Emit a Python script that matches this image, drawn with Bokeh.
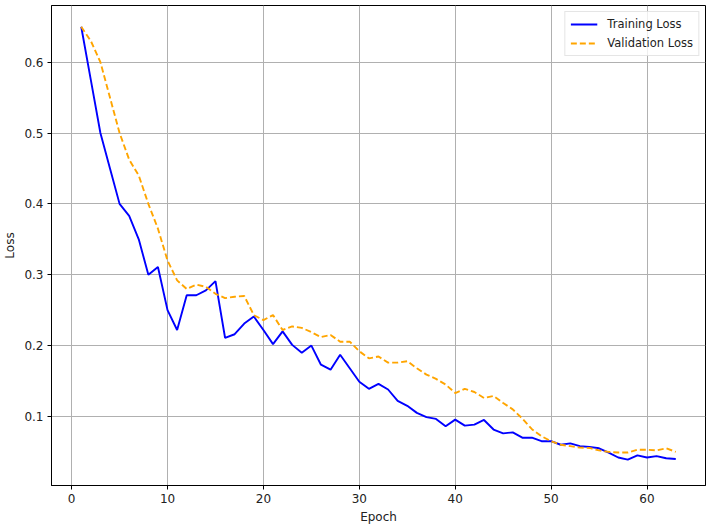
from bokeh.plotting import figure
from bokeh.models import Range1d, FixedTicker, Legend, LegendItem
from bokeh.embed import file_html
from bokeh.resources import INLINE

epochs = list(range(1, 64))
train_loss = [0.65, 0.575, 0.50, 0.45, 0.40, 0.383, 0.35, 0.30, 0.311, 0.25,
              0.222, 0.271, 0.271, 0.278, 0.291, 0.211, 0.216, 0.231, 0.241, 0.222,
              0.202, 0.220, 0.201, 0.190, 0.200, 0.173, 0.166, 0.187, 0.168, 0.149,
              0.139, 0.146, 0.138, 0.122, 0.115, 0.105, 0.099, 0.0965, 0.086, 0.0955,
              0.087, 0.0885, 0.095, 0.0815, 0.076, 0.0775, 0.070, 0.070, 0.065, 0.065,
              0.060, 0.062, 0.058, 0.057, 0.055, 0.049, 0.042, 0.039, 0.045, 0.042,
              0.044, 0.041, 0.040]
val_loss = [0.65, 0.63, 0.60, 0.55, 0.50, 0.4625, 0.44, 0.40, 0.365, 0.32,
            0.292, 0.28, 0.286, 0.283, 0.273, 0.267, 0.269, 0.27, 0.243, 0.236,
            0.243, 0.222, 0.227, 0.225, 0.219, 0.212, 0.215, 0.2055, 0.2055, 0.192,
            0.182, 0.1845, 0.176, 0.176, 0.178, 0.168, 0.159, 0.153, 0.145, 0.133,
            0.139, 0.1345, 0.126, 0.129, 0.119, 0.110, 0.097, 0.082, 0.072, 0.065,
            0.060, 0.058, 0.056, 0.0555, 0.052, 0.050, 0.049, 0.049, 0.053, 0.053,
            0.052, 0.055, 0.050]
x_ticks = [0, 10, 20, 30, 40, 50, 60]
y_ticks = [0.1, 0.2, 0.3, 0.4, 0.5, 0.6]

p = figure(width=708, height=526, output_backend="svg", toolbar_location=None,
           x_range=Range1d(-2.1, 66.1), y_range=Range1d(0.0025, 0.68),
           min_border_left=50, min_border_right=3, min_border_top=5, min_border_bottom=38)

p.outline_line_color = "black"
p.outline_line_width = 1
p.background_fill_color = "white"
p.border_fill_color = "white"

for ax in (p.xaxis[0], p.yaxis[0]):
    ax.axis_line_color = "black"
    ax.major_tick_line_color = "black"
    ax.major_tick_out = 4
    ax.major_tick_in = 0
    ax.minor_tick_line_color = None
    ax.major_label_text_font = "DejaVu Sans"
    ax.major_label_text_font_size = "12px"
    ax.major_label_text_color = "#222222"
    ax.major_label_standoff = 4
    ax.axis_label_text_font = "DejaVu Sans"
    ax.axis_label_text_font_size = "12px"
    ax.axis_label_text_font_style = "normal"
    ax.axis_label_text_color = "#222222"
    ax.axis_label_standoff = 4

p.xaxis.ticker = FixedTicker(ticks=x_ticks)
p.yaxis.ticker = FixedTicker(ticks=y_ticks)
p.xaxis.axis_label = "Epoch"
p.yaxis.axis_label = "Loss"

p.grid.grid_line_color = "#b0b0b0"
p.grid.grid_line_width = 1
p.xgrid.ticker = FixedTicker(ticks=x_ticks)
p.ygrid.ticker = FixedTicker(ticks=y_ticks)

r1 = p.line(epochs, train_loss, line_color="blue", line_width=1.9)
r2 = p.line(epochs, val_loss, line_color="orange", line_width=1.9, line_dash="6 3")

legend = Legend(items=[LegendItem(label="Training Loss", renderers=[r1]),
                       LegendItem(label="Validation Loss", renderers=[r2])],
                location="top_right")
legend.label_text_font = "DejaVu Sans"
legend.label_text_font_size = "11.5px"
legend.label_text_color = "#222222"
legend.border_line_color = "#cccccc"
legend.border_line_width = 1
legend.background_fill_alpha = 0.8
legend.glyph_width = 27
legend.glyph_height = 14
legend.label_height = 14
legend.label_standoff = 10
legend.spacing = 5
legend.padding = 5
legend.margin = 6
p.add_layout(legend)

open("out.html", "w").write(file_html(p, INLINE))
